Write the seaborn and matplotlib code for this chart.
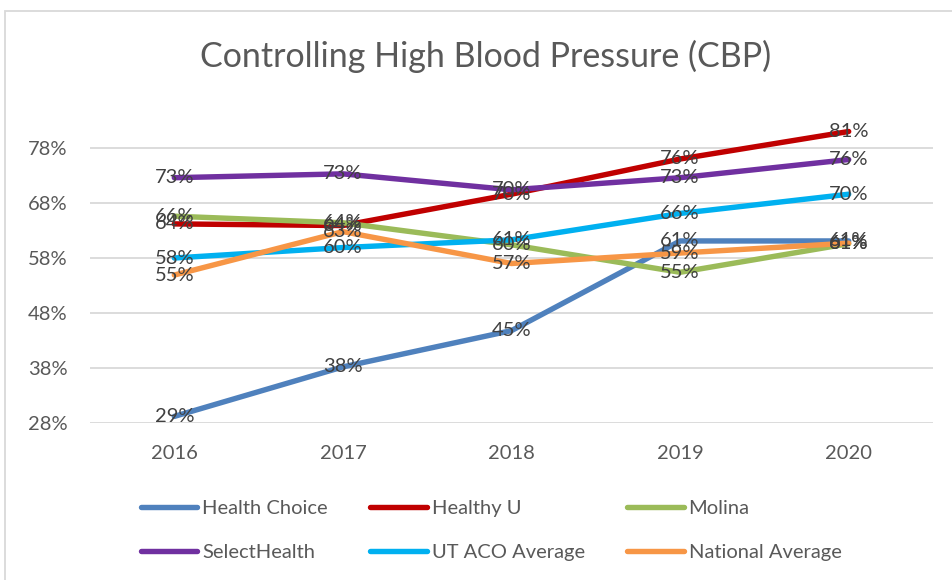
import matplotlib
matplotlib.use("Agg")
import matplotlib.pyplot as plt
from matplotlib.lines import Line2D
from matplotlib.patches import Rectangle
import numpy as np
import pandas as pd
import seaborn as sns

years = ["2016", "2017", "2018", "2019", "2020"]
health_choice = [29.2, 38.2, 44.8, 61.1, 61.1]
healthy_u = [64.2, 63.9, 69.6, 76.0, 81.0]
molina = [65.6, 64.4, 60.4, 55.4, 60.6]
select_health = [72.6, 73.3, 70.4, 72.6, 75.9]
ut_aco = [58.0, 59.9, 61.3, 66.1, 69.6]
national = [54.9, 62.8, 57.0, 58.9, 60.7]

series = ["Health Choice", "Healthy U", "Molina", "SelectHealth", "UT ACO Average", "National Average"]
colors = ["#4F81BD", "#C00000", "#9BBB59", "#7030A0", "#00B0F0", "#F79646"]
yticks = [28, 38, 48, 58, 68, 78]

values = [health_choice, healthy_u, molina, select_health, ut_aco, national]
rows = []
for name, vals in zip(series, values):
    for i, (yr, v) in enumerate(zip(years, vals)):
        rows.append({"Year": yr, "x": i, "Rate": v, "Plan": name})
df = pd.DataFrame(rows)

sns.set_theme(style="white")
plt.rcParams['font.family'] = ['Lato', 'DejaVu Sans']

fig = plt.figure(figsize=(9.52, 5.80), dpi=100)
ax = fig.add_axes([90/952, 1-423/580, (933-90)/952, 330/580])

for y in yticks:
    ax.axhline(y, color="#D9D9D9", lw=1.3, zorder=0)

sns.lineplot(data=df, x="x", y="Rate", hue="Plan", hue_order=series,
             palette=colors, lw=3.9, sort=False, estimator=None,
             legend=False, ax=ax, solid_capstyle="round")

# data labels centred on points
for _, r in df.iterrows():
    ax.text(r["x"], r["Rate"], f"{r['Rate']:.0f}%", ha="center", va="center",
            fontsize=14.5, color="#404040", zorder=5)

ax.set_xlim(-0.5, 4.5)
ax.set_ylim(28, 88)
ax.set_xticks(range(len(years)))
ax.set_xticklabels(years)
ax.set_yticks(yticks)
ax.set_yticklabels([f"{t}%" for t in yticks])
ax.tick_params(axis="both", length=0, labelsize=14.5, labelcolor="#595959")
ax.tick_params(axis="y", pad=16)
ax.tick_params(axis="x", pad=16)
ax.set_xlabel("")
ax.set_ylabel("")
for s in ax.spines.values():
    s.set_visible(False)

fig.text(486/952, 1-56/580, "Controlling High Blood Pressure (CBP)", ha="center",
         va="center", fontsize=24.5, color="#595959")

# chart border
fig.patches.append(Rectangle((5/952, -0.1), 1.2, 1.1 - 11/580, transform=fig.transFigure,
                             fill=False, edgecolor="#D9D9D9", lw=1.3))

handles = [Line2D([0], [0], color=c, lw=3.9, solid_capstyle="round") for c in colors]
order = [0, 3, 1, 4, 2, 5]
fig.legend([handles[i] for i in order], [series[i] for i in order], ncol=3,
           loc="upper left", bbox_to_anchor=(141/952, 1-500/580), frameon=False,
           fontsize=14.5, labelcolor="#595959", handlelength=2.8, handletextpad=0.25,
           columnspacing=2.1, labelspacing=1.35, borderpad=0, borderaxespad=0)

fig.savefig("out.png", dpi=100)
